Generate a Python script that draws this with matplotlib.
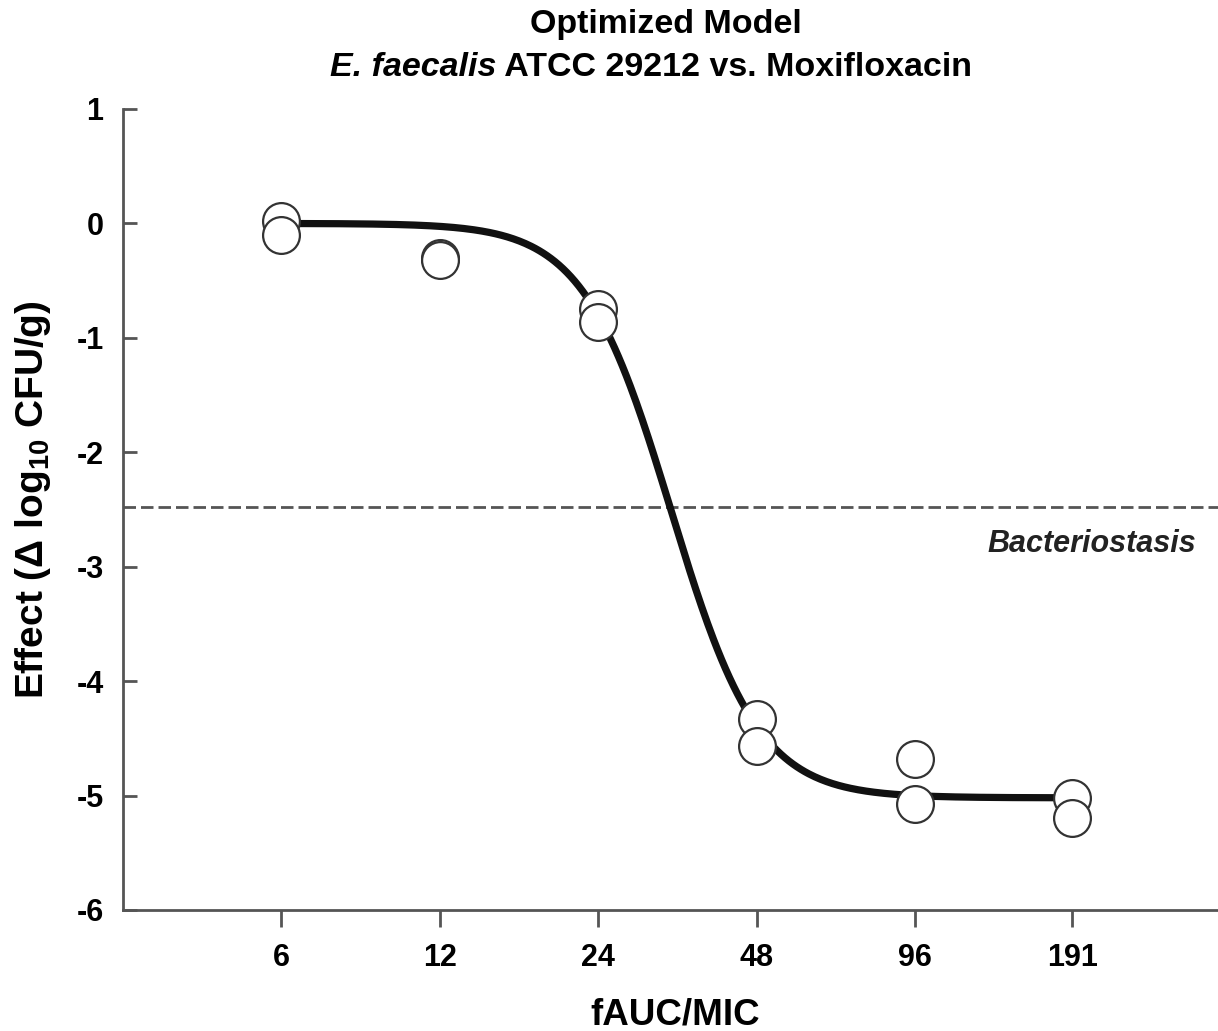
import numpy as np
import matplotlib
matplotlib.use("Agg")
from matplotlib import pyplot as plt

plt.rcParams['font.family'] = ['Liberation Sans', 'DejaVu Sans']
plt.rcParams['font.weight'] = 'bold'
plt.rcParams['axes.unicode_minus'] = False
plt.rcParams['mathtext.fontset'] = 'custom'
plt.rcParams['mathtext.rm'] = 'Liberation Sans:bold'
plt.rcParams['mathtext.it'] = 'Liberation Sans:bold:italic'
plt.rcParams['mathtext.bf'] = 'Liberation Sans:bold'

# observed data (two replicates per exposure)
fauc_mic = [6, 6, 12, 12, 24, 24, 48, 48, 96, 96, 191, 191]
effect = [0.02, -0.10, -0.30, -0.32, -0.75, -0.86, -4.33, -4.57, -4.68, -5.07, -5.02, -5.20]

# fitted sigmoid Emax model
e0 = 0.0
emax = -5.02
ec50 = 33.0
hill = 5.2

xticks = [6, 12, 24, 48, 96, 191]
yticks = [1, 0, -1, -2, -3, -4, -5, -6]
stasis = -2.48

fig = plt.figure(figsize=(12.18, 10.31), dpi=100)
ax = fig.add_axes([0.101, 0.1174, 0.9105, 0.7769])

xc = np.logspace(np.log10(6), np.log10(191), 400)
yc = e0 + emax * xc**hill / (ec50**hill + xc**hill)
ax.plot(xc, yc, color='#111111', linewidth=5.2, zorder=2, solid_capstyle='butt')
ax.axhline(stasis, color='#555555', linewidth=2, dashes=(4.5, 1.8), zorder=1)
ax.plot(fauc_mic, effect, linestyle='none', marker='o', markersize=26.5,
        markerfacecolor='white', markeredgecolor='#333333', markeredgewidth=1.6,
        zorder=3, clip_on=False)

ax.text(328, -2.80, 'Bacteriostasis', ha='right', va='center', fontsize=22,
        style='italic', fontweight='bold', color='#222222')

ax.set_xscale('log')
ax.set_xlim(3, 384)
ax.set_ylim(-6, 1)
ax.set_xticks(xticks)
ax.set_xticklabels([str(t) for t in xticks])
ax.xaxis.set_minor_locator(matplotlib.ticker.NullLocator())
ax.set_yticks(yticks)
ax.tick_params(axis='x', direction='out', length=12, width=2, color='#555555',
               labelsize=22, pad=12)
ax.tick_params(axis='y', direction='in', length=10, width=2, color='#555555',
               labelsize=22, pad=14)
for s in ['top', 'right']:
    ax.spines[s].set_visible(False)
for s in ['left', 'bottom']:
    ax.spines[s].set_color('#555555')
    ax.spines[s].set_linewidth(2)

fig.text(675 / 1218, 1 - 1015 / 1031, 'fAUC/MIC', ha='center', va='center',
         fontsize=26.5, fontweight='bold')
fig.text(33 / 1218, 1 - 500 / 1031, 'Effect (Δ log$_{10}$ CFU/g)', ha='center', va='center',
         rotation=90, fontsize=28, fontweight='bold')

# two-line title, second line with an italic species name
fig.text(666 / 1218, 1 - 24 / 1031, 'Optimized Model', ha='center', va='center',
         fontsize=24.5, fontweight='bold')
renderer = fig.canvas.get_renderer()
p1 = fig.text(0, 1 - 67 / 1031, 'E. faecalis', ha='left', va='center',
              fontsize=24.5, fontweight='bold', style='italic')
p2 = fig.text(0, 1 - 67 / 1031, ' ATCC 29212 vs. Moxifloxacin', ha='left', va='center',
              fontsize=24.5, fontweight='bold')
w1 = p1.get_window_extent(renderer).width
w2 = p2.get_window_extent(renderer).width
x0 = 651 - (w1 + w2) / 2
p1.set_x(x0 / fig.bbox.width)
p2.set_x((x0 + w1) / fig.bbox.width)

fig.savefig('out.png', dpi=100)
